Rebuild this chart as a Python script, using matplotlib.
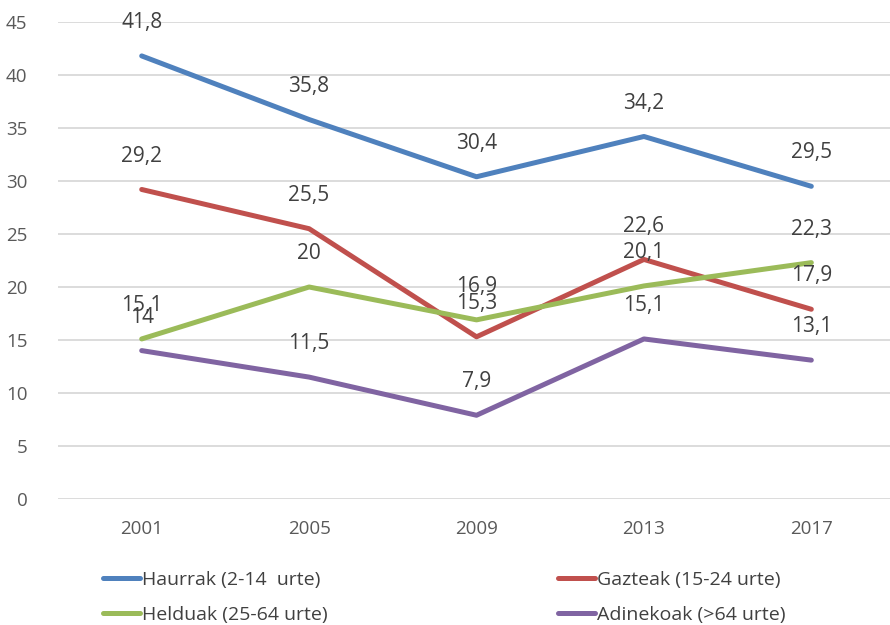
import matplotlib.pyplot as plt
import numpy as np

years = ["2001", "2005", "2009", "2013", "2017"]
haurrak = [41.8, 35.8, 30.4, 34.2, 29.5]
gazteak = [29.2, 25.5, 15.3, 22.6, 17.9]
helduak = [15.1, 20.0, 16.9, 20.1, 22.3]
adinekoak = [14.0, 11.5, 7.9, 15.1, 13.1]

series = [
    ("Haurrak (2-14  urte)", haurrak, "#4F81BD"),
    ("Gazteak (15-24 urte)", gazteak, "#C0504D"),
    ("Helduak (25-64 urte)", helduak, "#9BBB59"),
    ("Adinekoak (>64 urte)", adinekoak, "#8064A2"),
]

plt.rcParams['font.family'] = ['Open Sans', 'DejaVu Sans']

fig = plt.figure(figsize=(8.9, 6.25), dpi=100)
ax = fig.add_axes([58 / 890, 126 / 625, 832 / 890, 477 / 625])

x = np.arange(len(years))
lines = []
for name, vals, color in series:
    ln, = ax.plot(x, vals, color=color, linewidth=3.6, solid_capstyle='round', label=name)
    lines.append(ln)
    for xi, v in zip(x, vals):
        txt = ("%g" % v).replace(".", ",")
        ax.annotate(txt, (xi, v), xytext=(0, 24), textcoords='offset points',
                    ha='center', va='center', fontsize=15, color='#404040')

ax.set_xlim(-0.5, 4.47)
ax.set_ylim(0, 45)
ax.set_yticks(range(0, 46, 5))
ax.set_xticks(x)
ax.set_xticklabels(years)
ax.tick_params(axis='both', length=0, labelsize=13.5, colors='#595959')
ax.tick_params(axis='x', pad=15)
ax.tick_params(axis='y', pad=22)
ax.grid(axis='y', color='#D9D9D9', linewidth=1.3)
ax.set_axisbelow(True)
for s in ax.spines.values():
    s.set_visible(False)

# two legend columns placed separately
leg_kw = dict(loc='upper left', frameon=False, fontsize=14, handlelength=1.9,
              handletextpad=0.1, labelspacing=0.85, borderpad=0, borderaxespad=0,
              labelcolor='#404040')
fig.legend(handles=[lines[0], lines[2]], bbox_to_anchor=(103 / 890, 1 - 571 / 625), **leg_kw)
fig.legend(handles=[lines[1], lines[3]], bbox_to_anchor=(558 / 890, 1 - 571 / 625), **leg_kw)

fig.savefig("out.png", dpi=100)
